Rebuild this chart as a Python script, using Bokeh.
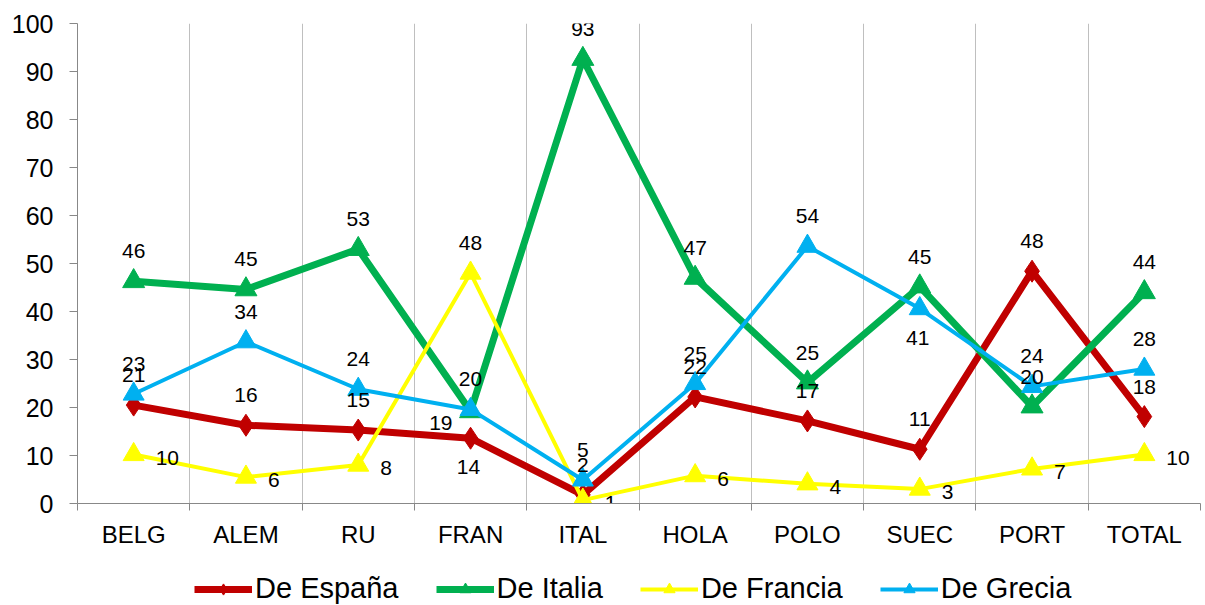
from bokeh.plotting import figure
from bokeh.layouts import column
from bokeh.models import FixedTicker, ColumnDataSource, Legend, LegendItem, Range1d
from bokeh.core.properties import value
from bokeh.embed import file_html
from bokeh.resources import INLINE

categories = ["BELG", "ALEM", "RU", "FRAN", "ITAL", "HOLA", "POLO", "SUEC", "PORT", "TOTAL"]
espana = [20.5, 16.3, 15.3, 13.6, 1.8, 22.2, 17.2, 11.3, 48.4, 18.1]
italia = [46.3, 44.6, 53.0, 19.2, 92.6, 47.0, 25.2, 45.2, 20.2, 44.0]
francia = [10.2, 5.5, 8.0, 48.0, 0.7, 5.8, 4.1, 3.0, 7.2, 10.2]
grecia = [22.8, 33.7, 23.8, 19.6, 4.9, 25.0, 53.6, 40.6, 24.4, 28.0]
y_ticks = [0, 10, 20, 30, 40, 50, 60, 70, 80, 90, 100]
series_names = ["De España", "De Italia", "De Francia", "De Grecia"]

FONT = "Liberation Sans"
n = len(categories)
xs = list(range(n))

p = figure(width=1203, height=563, output_backend="svg", toolbar_location=None,
           x_range=Range1d(-0.5, n - 0.5), y_range=Range1d(0, 100),
           min_border_left=77, min_border_right=3, min_border_top=23,
           min_border_bottom=60)
p.outline_line_color = None
p.background_fill_color = "white"
p.border_fill_color = "white"

# grid: vertical lines at category boundaries only
p.ygrid.visible = False
p.xgrid.ticker = FixedTicker(ticks=[i + 0.5 for i in range(n - 1)])
p.xgrid.grid_line_color = "#bfbfbf"
p.xgrid.grid_line_width = 1

# x axis
xa = p.xaxis[0]
xa.ticker = FixedTicker(ticks=xs, minor_ticks=[i - 0.5 for i in range(n + 1)])
xa.major_label_overrides = {i: c for i, c in enumerate(categories)}
xa.major_tick_out = 0
xa.major_tick_in = 0
xa.minor_tick_out = 7
xa.minor_tick_in = 0
xa.minor_tick_line_color = "#888888"
xa.axis_line_color = "#888888"
xa.major_label_text_font = FONT
xa.major_label_text_font_size = "24px"
xa.major_label_text_color = "black"
xa.major_label_standoff = 10

# y axis
ya = p.yaxis[0]
ya.ticker = FixedTicker(ticks=y_ticks)
ya.major_tick_out = 8
ya.major_tick_in = 0
ya.minor_tick_line_color = None
ya.axis_line_color = "#888888"
ya.major_tick_line_color = "#888888"
ya.major_label_text_font = FONT
ya.major_label_text_font_size = "25px"
ya.major_label_text_color = "black"
ya.major_label_standoff = 16

styles = [
    dict(color="#C00000", width=7, marker="diamond", size=22),
    dict(color="#00B050", width=7, marker="triangle", size=22),
    dict(color="#FFFF00", width=4, marker="triangle", size=21),
    dict(color="#00B0F0", width=4, marker="triangle", size=21),
]

# label placement per series (default) and overrides (series index, category index)
default_place = ["above", "above", "right", "above"]
override_place = {(0, 3): "below", (1, 3): "left", (2, 3): "above", (3, 7): "below"}
offsets = {"above": (0, -30, "center"), "right": (22, 3, "left"),
           "below": (-2, 29, "center"), "left": (-18, 12, "right")}

all_series = [espana, italia, francia, grecia]

# separate strip for the legend underneath (series drawn there out of view)
lg = figure(width=1203, height=42, output_backend="svg", toolbar_location=None,
            x_range=Range1d(-0.5, n - 0.5), y_range=Range1d(500, 600),
            x_axis_location=None, y_axis_location=None,
            min_border_left=0, min_border_right=0, min_border_top=0,
            min_border_bottom=0)
lg.outline_line_color = None
lg.xgrid.visible = False
lg.ygrid.visible = False

items = []
for si, (vals, st, name) in enumerate(zip(all_series, styles, series_names)):
    src = ColumnDataSource(dict(x=xs, y=vals))
    p.line("x", "y", source=src, line_color=st["color"], line_width=st["width"],
           line_join="round")
    p.scatter("x", "y", source=src, marker=st["marker"], size=st["size"],
              fill_color=st["color"], line_color=st["color"])
    l1 = lg.line("x", "y", source=src, line_color=st["color"], line_width=st["width"])
    l2 = lg.scatter("x", "y", source=src, marker=st["marker"], size=st["size"],
                    fill_color=st["color"], line_color=st["color"])
    items.append(LegendItem(label=name, renderers=[l1, l2]))

for si, vals in enumerate(all_series):
    for place in ["above", "right", "below", "left"]:
        lx, ly, lt = [], [], []
        for ci, v in enumerate(vals):
            pl = override_place.get((si, ci), default_place[si])
            if pl == place:
                lx.append(ci)
                ly.append(v)
                lt.append(str(int(v + 0.5)))
        if not lx:
            continue
        dx, dy, align = offsets[place]
        p.text(x=lx, y=ly, text=lt, x_offset=dx, y_offset=dy,
               text_align=align, text_baseline="middle",
               text_font=value(FONT), text_font_size="21px", text_color="black")

legend = Legend(items=items, orientation="horizontal", location=(117, 0),
                label_text_font=FONT, label_text_font_size="29px",
                label_text_color="black", glyph_width=58, glyph_height=28,
                label_height=28, label_standoff=3, spacing=37, padding=0,
                margin=0, border_line_color=None, background_fill_alpha=0)
lg.add_layout(legend, "center")

layout = column(p, lg, spacing=0)
open("out.html", "w").write(file_html(layout, INLINE))
